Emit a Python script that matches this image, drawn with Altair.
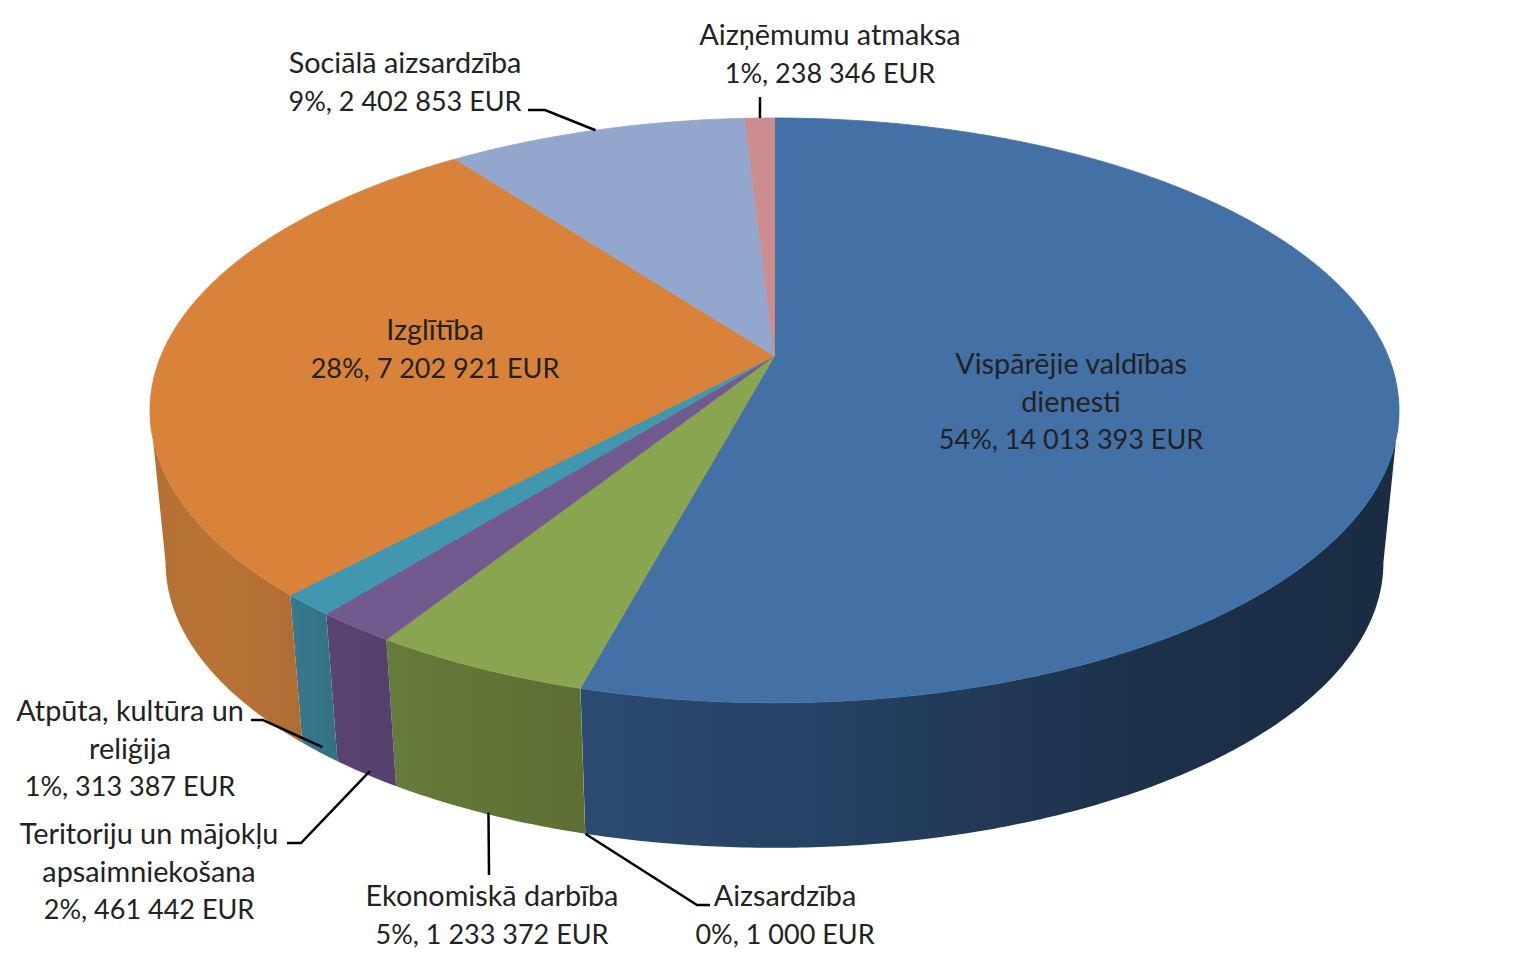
import math
import altair as alt
import pandas as pd

# ---- values ----
names = ["Vispārējie valdības\ndienesti", "Aizsardzība", "Ekonomiskā darbība",
         "Teritoriju un mājokļu\napsaimniekošana", "Atpūta, kultūra un\nreliģija",
         "Izglītība", "Sociālā aizsardzība", "Aizņēmumu atmaksa"]
values = [14013393, 1000, 1233372, 461442, 313387, 7202921, 2402853, 238346]
top_colors = ["#4371A6", "#B0504D", "#8AA550", "#725A8E", "#4197B0", "#D98239", "#93A7CE", "#CD8D8F"]
wall_stops = [
    [("#2C4B71", 0), ("#243F60", 0.35), ("#1C3049", 0.7), ("#1A2C44", 1)],
    [("#7A3230", 0), ("#7A3230", 1)],
    [("#667C3A", 0), ("#5C6E32", 1)],
    [("#5B4372", 0), ("#55406A", 1)],
    [("#38798F", 0), ("#337084", 1)],
    [("#B46F34", 0), ("#B97335", 0.45), ("#AF6C33", 1)],
    [("#6C7C9B", 0), ("#6C7C9B", 1)],
    [("#996A6B", 0), ("#996A6B", 1)],
]

# ---- layout of the drawing (page pixels) ----
CX, APEX_Y, BOTTOM_APEX_Y = 774.5, 356.0, 509.7
A, B, K, FLOOR_SCALE = 282.3, 613.6, 0.186, 0.975
label_pos = [(1071, 366.5), (785, 898.5), (492, 898.5), (149, 836.5), (130, 713.5), (435, 332.5), (405, 65.5), (830, 37.5)]
LINE_H = 37.3
NAME_SHIFT = -1.2
NAME_SIZE, AMOUNT_SIZE = 28.8, 27
# leader: rim anchored, anchor nudge, knee and end of each callout
leaders = {
    1: ("floor", (0, 0), (697, 905), (710, 905)),
    2: ("floor", (3, -1), None, (489, 875)),
    3: ("floor", (4, -3), (301, 843), (287, 843)),
    4: ("floor", (3, -5), (263, 720), (251, 720)),
    6: ("top", (0, 0), (545, 110), (528, 110)),
    7: ("top", (0.4, 0), None, (760, 97)),
}


def project(theta, floor=False):
    u, v = math.sin(theta), -math.cos(theta)
    w = 1 - K * v
    s = FLOOR_SCALE if floor else 1.0
    base = BOTTOM_APEX_Y if floor else APEX_Y
    return CX + s * B * u / w, base + s * A * v / w


total = sum(values)
bounds = [0.0]
for val in values:
    bounds.append(bounds[-1] + val / total * 2 * math.pi)

X = alt.X("x:Q", scale=alt.Scale(domain=[8, 1520], nice=False, zero=False), axis=None)
Y = alt.Y("y:Q", scale=alt.Scale(domain=[950, 8], nice=False, zero=False), axis=None)


def poly(points, fill, stroke=None):
    df = pd.DataFrame({"x": [p[0] for p in points], "y": [p[1] for p in points], "i": range(len(points))})
    return alt.Chart(df).mark_line(
        interpolate="linear-closed", fill=fill, stroke=stroke or "transparent", strokeWidth=0.8
    ).encode(x=X, y=Y, order=alt.Order("i:Q"))


def arc_samples(a, b):
    n = max(2, int((b - a) / math.radians(0.5)))
    return [a + (b - a) * j / n for j in range(n + 1)]


layers = []
# the wall is visible between the two points where the rim turns back
LOW = math.acos(-K)
HIGH = 2 * math.pi - LOW
for idx, stops in enumerate(wall_stops):
    a, b = max(bounds[idx], LOW), min(bounds[idx + 1], HIGH)
    if b <= a or values[idx] < 5000:
        continue
    ts = arc_samples(a, b)
    pts = [project(t) for t in ts] + [project(t, True) for t in reversed(ts)]
    grad = alt.Gradient(gradient="linear", x1=0, x2=1, y1=0, y2=0,
                        stops=[alt.GradientStop(color=c, offset=o) for c, o in stops])
    layers.append(poly(pts, grad))

for idx, col in enumerate(top_colors):
    if values[idx] < 5000:
        continue
    ts = arc_samples(bounds[idx], bounds[idx + 1])
    pts = [(CX, APEX_Y)] + [project(t) for t in ts]
    layers.append(poly(pts, col, col))

# leader lines
for idx, (rim, nudge, knee, end) in leaders.items():
    mid = (bounds[idx] + bounds[idx + 1]) / 2
    sx, sy = project(mid, rim != "top")
    start = (sx + nudge[0], sy + nudge[1])
    path = [start] + ([knee] if knee else []) + [end]
    df = pd.DataFrame({"x": [p[0] for p in path], "y": [p[1] for p in path], "i": range(len(path))})
    layers.append(alt.Chart(df).mark_line(color="#000000", strokeWidth=2.5).encode(x=X, y=Y, order=alt.Order("i:Q")))

# labels
name_rows, amount_rows = [], []
for name, val, (lx, ly) in zip(names, values, label_pos):
    pct = round(val / total * 100)
    amount = f"{val:,}".replace(",", " ")
    parts = name.split("\n")
    for j, line in enumerate(parts):
        name_rows.append({"x": lx, "y": ly + NAME_SHIFT + j * LINE_H, "t": line})
    amount_rows.append({"x": lx, "y": ly + len(parts) * LINE_H, "t": f"{pct}%, {amount} EUR"})
for rows, size in ((name_rows, NAME_SIZE), (amount_rows, AMOUNT_SIZE)):
    layers.append(
        alt.Chart(pd.DataFrame(rows)).mark_text(
            font="Lato", fontSize=size, color="#222222", align="center", baseline="middle"
        ).encode(x=X, y=Y, text="t:N")
    )

chart = alt.layer(*layers).properties(
    width=1512, height=942, padding=0, background="white",
    autosize=alt.AutoSizeParams(type="none"),
).configure_view(stroke=None)

chart.save("out.html", embed_options={"renderer": "svg", "actions": False})
